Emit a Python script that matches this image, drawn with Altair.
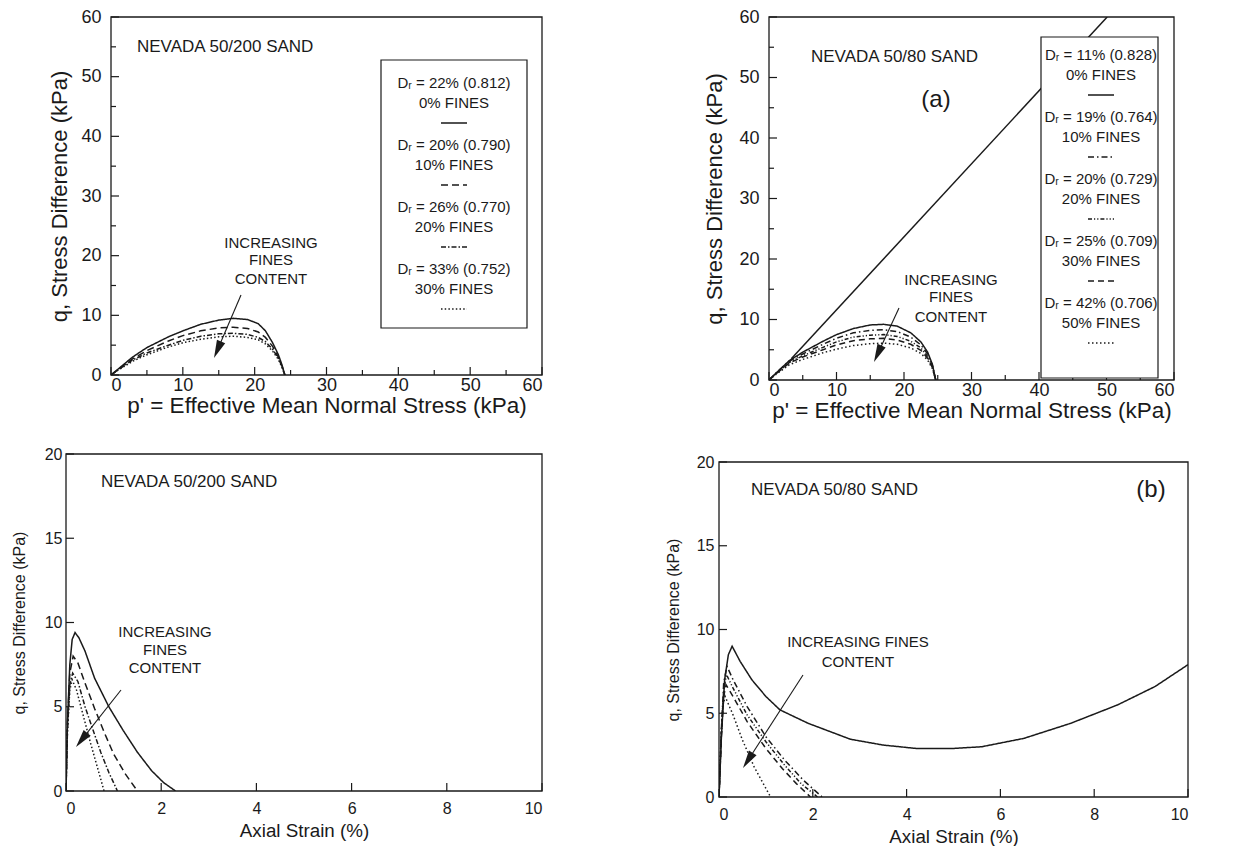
import math
import altair as alt
import pandas as pd

FONT = "Liberation Sans"
INK = "#1a1a1a"

# ---------------- (a) Nevada 50/200 sand: effective stress paths ----------------
a200_names = ["0% FINES", "10% FINES", "20% FINES", "30% FINES"]
a200_dr = ["Dᵣ = 22% (0.812)", "Dᵣ = 20% (0.790)", "Dᵣ = 26% (0.770)", "Dᵣ = 33% (0.752)"]
a200_p = [0, 1, 3, 5, 8, 10, 12.5, 15, 17, 19, 20.5, 21.5, 22.5, 23.3, 23.8, 24.2]
a200_q0 = [0, 1.0, 3.0, 4.6, 6.4, 7.4, 8.5, 9.2, 9.5, 9.3, 8.6, 7.4, 5.4, 3.4, 1.7, 0]
a200_q10 = [0, 0.9, 2.7, 4.1, 5.7, 6.6, 7.4, 7.9, 8.0, 7.8, 7.2, 6.3, 4.8, 3.0, 1.5, 0]
a200_q20 = [0, 0.9, 2.5, 3.7, 5.0, 5.8, 6.5, 6.9, 7.0, 6.8, 6.3, 5.6, 4.3, 2.8, 1.4, 0]
a200_q30 = [0, 0.8, 2.3, 3.4, 4.7, 5.4, 6.0, 6.4, 6.5, 6.3, 5.9, 5.2, 4.0, 2.6, 1.3, 0]
a200_dash = [[1, 0], [7, 4], [5, 2, 1.5, 2], [1.5, 2.2]]

# ---------------- (a) Nevada 50/80 sand: effective stress paths ----------------
a80_names = ["0% FINES", "10% FINES", "20% FINES", "30% FINES", "50% FINES"]
a80_dr = ["Dᵣ = 11% (0.828)", "Dᵣ = 19% (0.764)", "Dᵣ = 20% (0.729)",
          "Dᵣ = 25% (0.709)", "Dᵣ = 42% (0.706)"]
a80_p = [0, 1, 3, 5, 8, 10, 12.5, 15, 17, 19, 21, 22.5, 23.5, 24.2, 24.7]
a80_q0 = [0, 1.1, 3.2, 4.6, 6.4, 7.5, 8.5, 9.1, 9.2, 8.9, 7.8, 6.3, 4.6, 2.6, 0]
a80_q10 = [0, 1.1, 3.1, 4.3, 5.9, 6.9, 7.8, 8.2, 8.3, 8.0, 7.1, 5.8, 4.3, 2.5, 0]
a80_q20 = [0, 1.0, 2.9, 4.0, 5.4, 6.3, 7.1, 7.4, 7.5, 7.2, 6.4, 5.3, 3.9, 2.3, 0]
a80_q30 = [0, 1.0, 2.8, 3.8, 5.0, 5.8, 6.5, 6.8, 6.9, 6.6, 5.9, 4.9, 3.6, 2.1, 0]
a80_q50 = [0, 0.9, 2.5, 3.4, 4.5, 5.1, 5.7, 6.0, 6.1, 5.9, 5.3, 4.4, 3.3, 1.9, 0]
a80_line_p = [3.3, 50.1]
a80_line_q = [3.5, 60.0]
a80_dash = [[1, 0], [6, 3, 1.5, 3], [4, 2, 1.2, 2, 1.2, 2], [6, 4], [1.5, 2.5]]

# ---------------- (b) Nevada 50/200 sand: stress-strain ----------------
b200_e0 = [0, 0.03, 0.08, 0.13, 0.19, 0.27, 0.4, 0.6, 0.9, 1.2, 1.5, 1.8, 2.05, 2.3]
b200_q0 = [0, 4.0, 7.5, 9.0, 9.4, 9.1, 8.3, 6.7, 5.0, 3.6, 2.3, 1.2, 0.5, 0]
b200_e10 = [0, 0.03, 0.08, 0.15, 0.25, 0.4, 0.6, 0.8, 1.0, 1.25, 1.5]
b200_q10 = [0, 4.0, 7.0, 8.0, 7.6, 6.4, 4.9, 3.5, 2.2, 1.0, 0]
b200_e20 = [0, 0.03, 0.08, 0.14, 0.25, 0.4, 0.57, 0.73, 0.9, 1.08]
b200_q20 = [0, 3.5, 6.3, 7.0, 6.5, 5.0, 3.6, 2.3, 1.1, 0]
b200_e30 = [0, 0.03, 0.08, 0.13, 0.22, 0.36, 0.52, 0.66, 0.8]
b200_q30 = [0, 3.5, 6.0, 6.6, 6.0, 4.5, 2.8, 1.4, 0]

# ---------------- (b) Nevada 50/80 sand: stress-strain ----------------
b80_e0 = [0, 0.05, 0.12, 0.2, 0.28, 0.45, 0.7, 1.0, 1.3, 1.9, 2.8, 3.5, 4.2, 5.0,
          5.6, 6.5, 7.5, 8.5, 9.3, 10]
b80_q0 = [0, 3.5, 7.0, 8.5, 9.0, 8.1, 7.0, 6.0, 5.2, 4.4, 3.45, 3.1, 2.9, 2.9,
          3.0, 3.5, 4.4, 5.5, 6.6, 7.9]
b80_e10 = [0, 0.05, 0.1, 0.17, 0.3, 0.6, 1.0, 1.4, 1.8, 2.2]
b80_q10 = [0, 4.0, 6.8, 7.8, 7.0, 5.4, 3.6, 2.2, 1.0, 0]
b80_e20 = [0, 0.05, 0.1, 0.16, 0.3, 0.6, 1.0, 1.4, 1.75, 2.1]
b80_q20 = [0, 3.8, 6.4, 7.3, 6.5, 4.9, 3.3, 1.9, 0.8, 0]
b80_e30 = [0, 0.05, 0.1, 0.15, 0.3, 0.6, 1.0, 1.35, 1.65, 1.95]
b80_q30 = [0, 3.6, 6.0, 6.7, 6.0, 4.5, 2.9, 1.7, 0.8, 0]
b80_e50 = [0, 0.04, 0.08, 0.13, 0.3, 0.5, 0.75, 1.1]
b80_q50 = [0, 3.4, 5.4, 6.0, 4.9, 3.4, 1.8, 0]

ONE = pd.DataFrame({"a": [0]})


def curves(names, xs_list, ys_list):
    rows = []
    for name, xs, ys in zip(names, xs_list, ys_list):
        for i, (x, y) in enumerate(zip(xs, ys)):
            rows.append({"s": name, "i": i, "x": x, "y": y})
    return pd.DataFrame(rows)


def txt(s, x, y, size=14, align="center", weight="normal"):
    return alt.Chart(ONE).mark_text(
        text=s, font=FONT, fontSize=size, align=align, baseline="middle",
        color=INK, fontWeight=weight,
    ).encode(x=alt.value(x), y=alt.value(y))


def seg(x1, y1, x2, y2, dash=None, width=1.3):
    kw = dict(color=INK, strokeWidth=width)
    if dash is not None:
        kw["strokeDash"] = dash
    return alt.Chart(ONE).mark_rule(**kw).encode(
        x=alt.value(x1), y=alt.value(y1), x2=alt.value(x2), y2=alt.value(y2))


def arrow(x1, y1, x2, y2, head=18):
    dx, dy = x2 - x1, y2 - y1
    L = math.hypot(dx, dy)
    ang = math.degrees(math.atan2(dx, -dy)) % 360
    cx, cy = x2 - dx / L * head / 2, y2 - dy / L * head / 2
    head_mark = alt.Chart(ONE).mark_point(
        shape="M0,-1L0.5,1L-0.5,1Z", filled=True, color=INK, opacity=1,
        size=head * head, angle=ang,
    ).encode(x=alt.value(cx), y=alt.value(cy))
    return [seg(x1, y1, cx, cy, width=1.1), head_mark]


def box(x1, y1, x2, y2):
    return alt.Chart(ONE).mark_rect(fill="white", stroke=INK, strokeWidth=1.2).encode(
        x=alt.value(x1), x2=alt.value(x2), y=alt.value(y1), y2=alt.value(y2))


def panel(df, names, dashes, xdom, ydom, w, h, xtitle, ytitle, xvals, xminor,
          yvals, yminor, lab, tit_x, tit_y, extras, lpad_x=3, lpad_y=5,
          tpad_x=2, tpad_y=14, under=None):
    xs = alt.Scale(domain=xdom, nice=False, zero=False)
    ys = alt.Scale(domain=ydom, nice=False, zero=False)
    ax_common = dict(ticks=False, domain=False, grid=False, labelFont=FONT,
                     labelFontSize=lab, labelColor=INK, titleFont=FONT,
                     titleFontWeight="normal", titleColor=INK)
    X = alt.X("x:Q", scale=xs, title=xtitle,
              axis=alt.Axis(values=xvals, titlePadding=tpad_x, labelPadding=lpad_x,
                            titleFontSize=tit_x, **ax_common))
    Y = alt.Y("y:Q", scale=ys, title=ytitle,
              axis=alt.Axis(values=yvals, titlePadding=tpad_y, labelPadding=lpad_y,
                            titleFontSize=tit_y, **ax_common))
    # one line layer per series, each with its own dash pattern
    layers = []
    for name, dash in zip(names, dashes):
        layers.append(
            alt.Chart(df[df["s"] == name]).mark_line(
                color=INK, strokeWidth=1.5, clip=True, strokeDash=dash,
            ).encode(x=X, y=Y, order="i:Q")
        )
    if under is not None:
        layers.append(alt.Chart(under).mark_line(color=INK, strokeWidth=1.5, clip=True)
                      .encode(x=X, y=Y, order="i:Q"))
    for vals, L in ((xvals, 8), (xminor, 5)):
        if vals:
            layers.append(alt.Chart(pd.DataFrame({"x": vals})).mark_rule(
                color=INK, strokeWidth=1.2).encode(x=X, y=alt.value(h), y2=alt.value(h - L)))
    for vals, L in ((yvals, 8), (yminor, 5)):
        if vals:
            layers.append(alt.Chart(pd.DataFrame({"y": vals})).mark_rule(
                color=INK, strokeWidth=1.2).encode(y=Y, x=alt.value(0), x2=alt.value(L)))
    layers += extras
    layers.append(alt.Chart(ONE).mark_rect(fillOpacity=0, stroke=INK, strokeWidth=1.3).encode(
        x=alt.value(0), x2=alt.value(w), y=alt.value(0), y2=alt.value(h)))
    return alt.layer(*layers).properties(width=w, height=h)


def spacer(w, h=1):
    return alt.Chart(ONE).mark_point(opacity=0, size=0).encode(
        x=alt.X("a:Q", axis=None), y=alt.Y("a:Q", axis=None)).properties(width=w, height=h)


def legend(left, top, right, bottom, cx, y0, step, drs, names, dashes, size=15):
    out = [box(left, top, right, bottom)]
    for k, (dr, nm, d) in enumerate(zip(drs, names, dashes)):
        y = y0 + k * step
        out.append(txt(dr, cx, y, size))
        out.append(txt(nm, cx, y + 20, size))
        out.append(seg(cx - 13, y + 40, cx + 13, y + 40, dash=d, width=1.6))
    return out


P_TITLE = "p' = Effective Mean Normal Stress (kPa)"
Q_TITLE = "q, Stress Difference (kPa)"

# ---------------- panels ----------------
TL_W, TL_H = 431, 358
tl_extras = [txt("NEVADA 50/200 SAND", 26, 30, 17, align="left")]
tl_extras += legend(270, 43, 416, 311, 343, 66, 62, a200_dr, a200_names, a200_dash)
tl_extras += [txt("INCREASING", 160, 226, 15), txt("FINES", 160, 243, 15),
              txt("CONTENT", 160, 262, 15)]
tl_extras += arrow(130, 278, 103, 341)
tl = panel(curves(a200_names, [a200_p] * 4, [a200_q0, a200_q10, a200_q20, a200_q30]),
           a200_names, a200_dash, [0, 60], [0, 60], TL_W, TL_H, P_TITLE, Q_TITLE,
           list(range(0, 61, 10)), list(range(5, 60, 10)),
           list(range(0, 61, 10)), list(range(5, 60, 10)), 18, 22.5, 22, tl_extras,
           lpad_x=1, tpad_x=0, lpad_y=10, tpad_y=9)

TR_W, TR_H = 405, 363
tr_extras = [txt("NEVADA 50/80 SAND", 42, 40, 17, align="left"),
             txt("(a)", 167, 83, 24)]
tr_extras += legend(272, 20, 389, 361, 332, 38, 62, a80_dr, a80_names, a80_dash)
tr_extras += [txt("INCREASING", 182, 263, 15), txt("FINES", 182, 280, 15),
              txt("CONTENT", 182, 300, 15)]
tr_extras += arrow(130, 291, 105, 345)
tr = panel(curves(a80_names, [a80_p] * 5, [a80_q0, a80_q10, a80_q20, a80_q30, a80_q50]),
           a80_names, a80_dash, [0, 60], [0, 60], TR_W, TR_H, P_TITLE, Q_TITLE,
           list(range(0, 61, 10)), list(range(5, 60, 10)),
           list(range(0, 61, 10)), list(range(5, 60, 10)), 18, 22.5, 22, tr_extras,
           lpad_x=1, tpad_x=0, lpad_y=10, tpad_y=12,
           under=pd.DataFrame({"i": [0, 1], "x": a80_line_p, "y": a80_line_q}))

BL_W, BL_H = 476, 337
bl_extras = [txt("NEVADA 50/200 SAND", 35, 28, 17, align="left"),
             txt("INCREASING", 99, 178, 15), txt("FINES", 99, 196, 15),
             txt("CONTENT", 99, 214, 15)]
bl_extras += arrow(55, 236, 10, 293)
bl = panel(curves(a200_names, [b200_e0, b200_e10, b200_e20, b200_e30],
                  [b200_q0, b200_q10, b200_q20, b200_q30]),
           a200_names, a200_dash, [0, 10], [0, 20], BL_W, BL_H,
           "Axial Strain (%)", Q_TITLE,
           list(range(0, 11, 2)), [], list(range(0, 21, 5)), [], 16, 18.8, 16, bl_extras,
           lpad_x=9, tpad_x=5, lpad_y=4, tpad_y=17)

BR_W, BR_H = 469, 335
br_extras = [txt("NEVADA 50/80 SAND", 32, 28, 17, align="left"),
             txt("(b)", 432, 28, 24),
             txt("INCREASING FINES", 139, 180, 15), txt("CONTENT", 139, 200, 15)]
br_extras += arrow(84, 213, 24, 306)
br = panel(curves(a80_names, [b80_e0, b80_e10, b80_e20, b80_e30, b80_e50],
                  [b80_q0, b80_q10, b80_q20, b80_q30, b80_q50]),
           a80_names, a80_dash, [0, 10], [0, 20], BR_W, BR_H,
           "Axial Strain (%)", Q_TITLE,
           list(range(0, 11, 2)), [], list(range(0, 21, 5)), [], 16, 18.8, 16, br_extras,
           lpad_x=9, tpad_x=5, lpad_y=5, tpad_y=15)

TOP_ROW_H = max(TL_H, TR_H)
top_row = alt.hconcat(spacer(45, TOP_ROW_H), tl, spacer(227, TOP_ROW_H), tr,
                      spacing=0, bounds="flush")
br_col = alt.vconcat(spacer(10, 8), br, spacing=0, bounds="flush")
bottom_row = alt.hconcat(bl, spacer(177, BL_H), br_col, spacing=0, bounds="flush")

chart = alt.vconcat(top_row, bottom_row, spacing=24).properties(
    padding={"left": 11, "top": 8, "right": 0, "bottom": 0},
    background="white",
).configure_view(stroke=None)

chart.save("out.html", embed_options={"renderer": "svg", "actions": False})
